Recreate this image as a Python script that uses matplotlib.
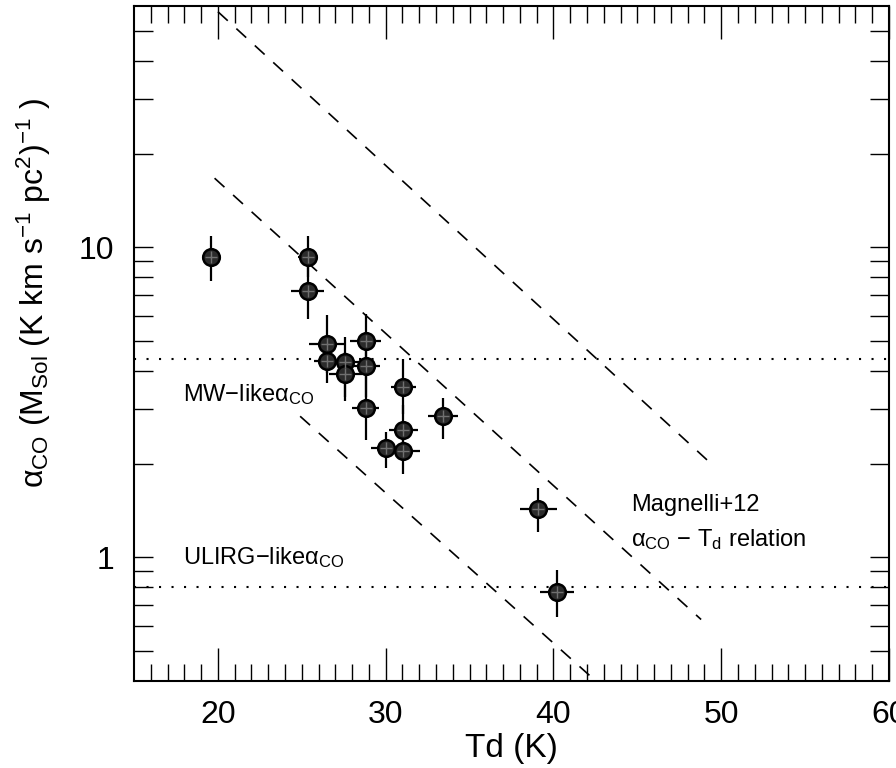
import numpy as np
import matplotlib.pyplot as plt
from matplotlib.ticker import FixedLocator, NullFormatter

plt.rcParams['font.family'] = ['Liberation Sans', 'DejaVu Sans']
plt.rcParams['mathtext.fontset'] = 'custom'
plt.rcParams['mathtext.rm'] = 'Liberation Sans'
plt.rcParams['mathtext.it'] = 'Liberation Sans:italic'

# dust temperature (K) and its error
td = [19.6, 25.35, 25.35, 26.5, 26.5, 27.6, 27.6, 28.8, 28.8, 28.8,
      31.05, 31.05, 31.05, 30.0, 33.4, 40.2, 39.1]
td_err = [0.0, 0.6, 1.0, 1.1, 0.75, 0.95, 1.0, 0.9, 0.85, 0.83,
          0.73, 0.85, 1.0, 0.9, 0.9, 1.0, 1.1]
# alpha_CO with lower / upper bounds
alpha = [9.33, 9.33, 7.2, 4.87, 4.31, 4.26, 3.89, 5.0, 4.14, 3.03,
         3.54, 2.58, 2.21, 2.25, 2.85, 0.772, 1.43]
alpha_lo = [7.8, 8.0, 5.86, 3.92, 3.64, 3.19, 3.3, 4.1, 3.3, 2.39,
            2.9, 2.1, 1.85, 1.94, 2.4, 0.64, 1.21]
alpha_hi = [10.9, 10.9, 8.8, 6.05, 5.1, 5.13, 4.6, 6.1, 5.0, 3.85,
            4.36, 3.1, 2.65, 2.54, 3.27, 0.91, 1.67]

# Magnelli+12 relation and its scatter (end points)
mag_x = [[20.0, 49.2], [19.8, 48.8], [24.9, 42.5]]
mag_y = [[57.5, 2.05], [16.7, 0.63], [2.85, 0.40]]

mw_alpha = 4.36
ulirg_alpha = 0.8

fig = plt.figure(figsize=(8.96, 7.68), dpi=100)
ax = fig.add_axes([0.1496, 0.1137, 0.8426, 0.8785])

for xs, ys in zip(mag_x, mag_y):
    ax.plot(xs, ys, color='black', lw=1.2, dashes=(8, 7))

ax.axhline(mw_alpha, color='black', lw=1.5, ls=(0, (1, 5)))
ax.axhline(ulirg_alpha, color='black', lw=1.5, ls=(0, (1, 5)))

a = np.array(alpha)
yerr = [a - np.array(alpha_lo), np.array(alpha_hi) - a]
ax.errorbar(td, alpha, xerr=td_err, yerr=yerr, fmt='none', ecolor='black',
            elinewidth=1.6, capsize=0, zorder=3)
ax.plot(td, alpha, 'o', ms=12, mfc='#2b2b2b', mec='black', mew=1.8, zorder=4)
ax.plot(td, alpha, '+', ms=9, color='#707070', mew=1.0, zorder=5)

ax.text(17.9, 3.35, 'MW$-$likeα$_{\\rm CO}$', fontsize=17, va='center')
ax.text(17.9, 1.0, 'ULIRG$-$likeα$_{\\rm CO}$', fontsize=17, va='center')
ax.text(44.6, 1.476, 'Magnelli+12', fontsize=17, va='center')
ax.text(44.6, 1.14, 'α$_{\\rm CO}$ $-$ T$_{\\rm d}$ relation', fontsize=17, va='center')

ax.set_xlim(15, 60)
ax.set_yscale('log')
ax.set_ylim(0.40, 60)

ax.set_xticks([20, 30, 40, 50, 60])
ax.set_xticks(np.arange(16, 60), minor=True)
ax.yaxis.set_major_locator(FixedLocator([1, 10]))
ax.set_yticklabels(['1', '10'])
ax.yaxis.set_minor_locator(FixedLocator([0.5, 0.6, 0.7, 0.8, 0.9, 2, 3, 4, 5, 6, 7, 8, 9,
                                         20, 30, 40, 50]))
ax.yaxis.set_minor_formatter(NullFormatter())

ax.tick_params(axis='both', which='both', direction='in', top=True, right=True,
               width=1.0, labelsize=23, pad=14)
ax.tick_params(axis='x', which='major', length=24)
ax.tick_params(axis='x', which='minor', length=12)
ax.tick_params(axis='y', which='both', length=14)
for s in ax.spines.values():
    s.set_linewidth(1.5)

ax.set_xlabel('Td (K)', fontsize=24, labelpad=2)
ax.set_ylabel('α$_{\\rm CO}$ (M$_{\\rm Sol}$ (K km s$^{-1}$ pc$^{2}$)$^{-1}$ )',
              fontsize=23)
ax.yaxis.set_label_coords(-0.108, 0.575)

fig.savefig('out.png', dpi=100)
